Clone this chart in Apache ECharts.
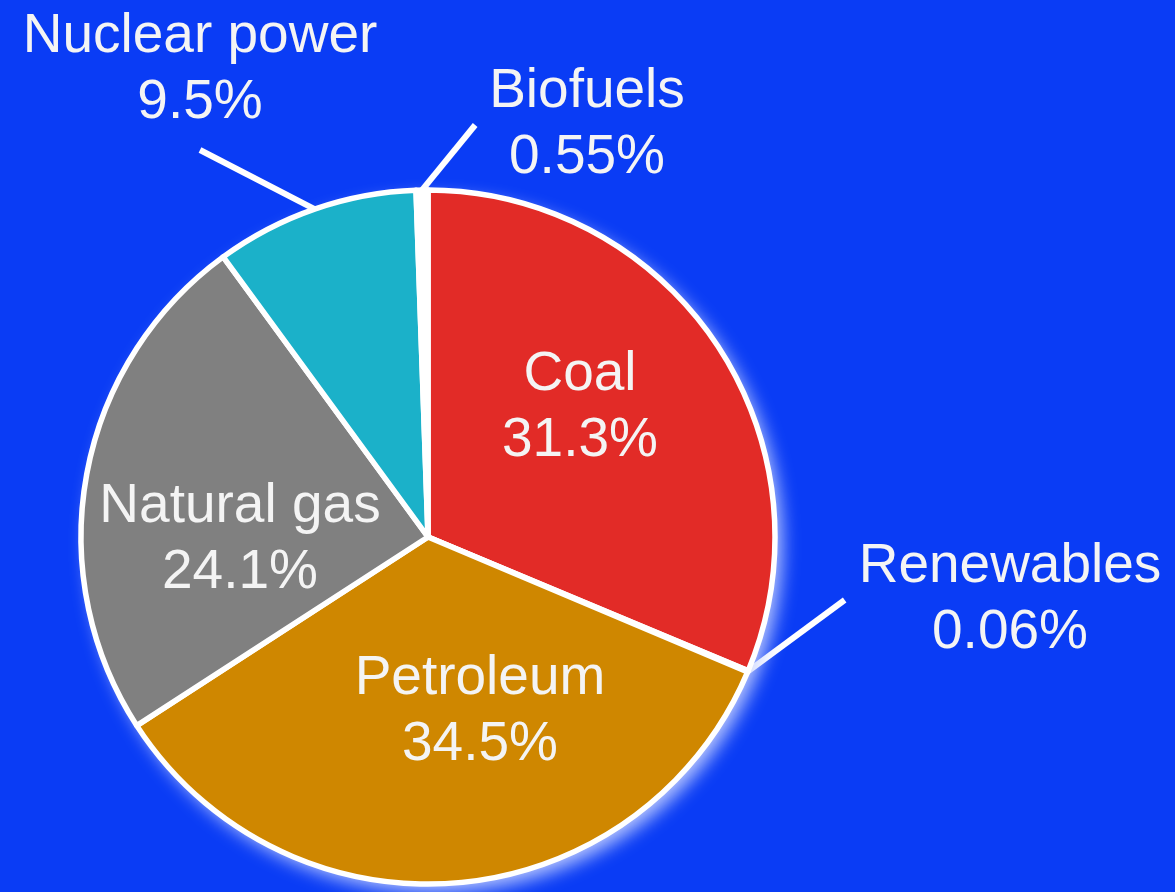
<!DOCTYPE html>
<html>
<head>
<meta charset="utf-8">
<script src="https://cdn.jsdelivr.net/npm/echarts@6/dist/echarts.min.js"></script>
<style>
  html, body { margin: 0; padding: 0; background: #0a3cf5; }
  #main { width: 1175px; height: 892px; }
</style>
</head>
<body>
<div id="main"></div>
<script>
// energy sources, clockwise from 12 o'clock
const names = ['Coal', 'Renewables', 'Petroleum', 'Natural gas', 'Nuclear power', 'Biofuels'];
const shares = [31.3, 0.06, 34.5, 24.1, 9.5, 0.55];
const colors = ['#e22b27', '#ffffff', '#cf8700', '#808080', '#1bb1c9', '#ffffff'];
const insideLabels = ['Coal', 'Petroleum', 'Natural gas'];

// where the text blocks sit (label placement only)
const labelPos = {
  'Coal': [580, 408],
  'Renewables': [1010, 600],
  'Petroleum': [480, 712],
  'Natural gas': [240, 540],
  'Nuclear power': [200, 70],
  'Biofuels': [587, 125]
};

const font = "'Liberation Sans', Arial, Helvetica, sans-serif";

const pieData = names.map((n, i) => {
  const inside = insideLabels.indexOf(n) >= 0;
  return {
    name: n,
    value: shares[i],
    itemStyle: { color: colors[i] },
    label: { position: inside ? 'inside' : 'outside' },
    labelLine: { show: !inside }
  };
});

const myChart = echarts.init(document.getElementById('main'));
myChart.setOption({
  backgroundColor: '#0a3cf5',
  animation: false,
  series: [
    {
      // soft glow under the pie
      type: 'pie',
      silent: true,
      center: [428, 537],
      radius: 347,
      label: { show: false },
      labelLine: { show: false },
      itemStyle: {
        color: '#ffffff',
        shadowColor: 'rgba(205,215,255,0.9)',
        shadowBlur: 18,
        shadowOffsetX: 7,
        shadowOffsetY: 8
      },
      data: [{ value: 1 }]
    },
    {
      type: 'pie',
      center: [428, 537],
      radius: 347,
      startAngle: 90,
      clockwise: true,
      avoidLabelOverlap: false,
      itemStyle: { borderColor: '#ffffff', borderWidth: 5.5 },
      label: {
        show: true,
        color: '#f4f4f4',
        fontFamily: font,
        fontSize: 55,
        lineHeight: 66,
        align: 'center',
        padding: [14, 14, 14, 14],
        formatter: p => p.name + '\n' + p.value + '%'
      },
      labelLine: {
        length: 20,
        length2: 0,
        lineStyle: { color: '#ffffff', width: 6 }
      },
      labelLayout: p => {
        const pos = labelPos[names[p.dataIndex]];
        return { x: pos[0], y: pos[1], align: 'center', verticalAlign: 'middle' };
      },
      data: pieData
    }
  ]
});
</script>
</body>
</html>
